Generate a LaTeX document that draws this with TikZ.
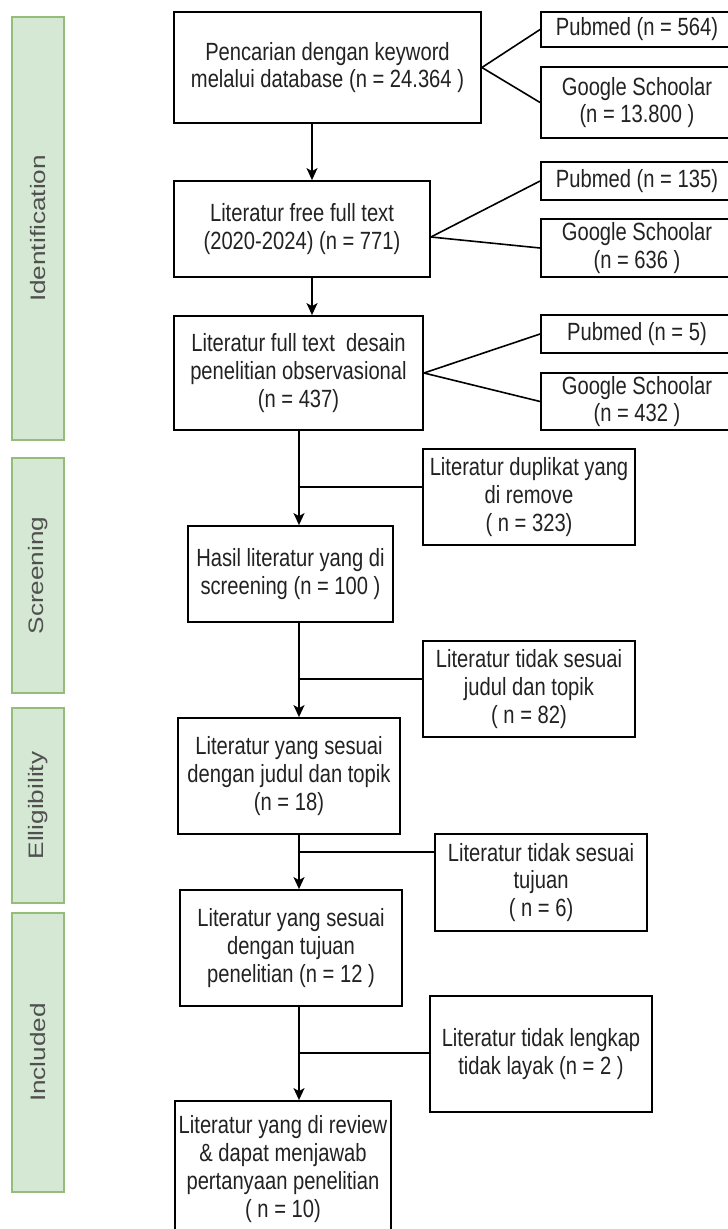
\documentclass[tikz,border=0pt]{standalone}
\usepackage{fontspec}
\setmainfont{Liberation Sans}[FakeStretch=0.81]
\newfontfamily\sidefont{Liberation Sans}[FakeStretch=1.25]
\usetikzlibrary{arrows.meta}
\definecolor{gfill}{HTML}{D5E8D4}
\definecolor{gdraw}{HTML}{93BD78}
\definecolor{txt}{HTML}{222222}
\definecolor{sidetxt}{HTML}{505050}
\begin{document}
\begin{tikzpicture}[x=1bp,y=-1bp,
  box/.style={draw=black, line width=1.8bp, fill=white, align=center, text=txt,
    font=\fontsize{25}{28}\selectfont, inner sep=0pt},
  sz/.style 2 args={minimum width=#1bp, minimum height=#2bp},
  phase/.style={draw=gdraw, fill=gfill, line width=1.5bp, minimum width=52bp, inner sep=0pt},
  phaselabel/.style={rotate=90, text=sidetxt, font=\sidefont\fontsize{21}{24}\selectfont, inner sep=0pt},
  link/.style={line width=1.6bp, draw=black},
  flow/.style={link, -{Stealth[length=12bp,width=11bp,inset=3bp]}}]
\useasboundingbox (0,0) rectangle (728,1229);
\fill[white] (0,0) rectangle (728,1229);

% phases
\node[phase, minimum height=423bp] (ph1) at (38,228.5) {};
\node[phaselabel] (lb1) at (ph1.center) {Identification};
\node[phase, minimum height=235bp] (ph2) at (38,575.5) {};
\node[phaselabel] (lb2) at (ph2.center) {Screening};
\node[phase, minimum height=195bp] (ph3) at (38,805.5) {};
\node[phaselabel] (lb3) at (ph3.center) {Elligibility};
\node[phase, minimum height=279bp] (ph4) at (38,1052.5) {};
\node[phaselabel] (lb4) at (ph4.center) {Included};

% main boxes
\node[box, sz={307}{111}] (A) at (327.5,67.5) {Pencarian dengan keyword\\melalui database (n = 24.364 )};
\node[box, sz={192}{35}] (P1) at (637,29.5) {Pubmed (n = 564)};
\node[box, sz={192}{71}] (G1) at (637,102.5) {Google Schoolar\\(n = 13.800 )};
\node[box, sz={256}{96}] (B) at (302,229) {Literatur free full text\\(2020-2024) (n = 771)};
\node[box, sz={192}{38}] (P2) at (637,181) {Pubmed (n = 135)};
\node[box, sz={192}{58}] (G2) at (637,248) {Google Schoolar\\(n = 636 )};
\node[box, sz={249}{114}] (C) at (298.5,373) {Literatur full text\ \ desain\\penelitian observasional\\(n = 437)};
\node[box, sz={192}{38}] (P3) at (637,334) {Pubmed (n = 5)};
\node[box, sz={192}{57}] (G3) at (637,401.5) {Google Schoolar\\(n = 432 )};
\node[box, sz={212}{96}] (R1) at (529,497) {Literatur duplikat yang\\di remove\\( n = 323)};
\node[box, sz={205}{96}] (D) at (290.5,574) {Hasil literatur yang di\\screening (n = 100 )};
\node[box, sz={212}{96}] (R2) at (529,689) {Literatur tidak sesuai\\judul dan topik\\( n = 82)};
\node[box, sz={222}{116}] (E) at (289,776) {Literatur yang sesuai\\dengan judul dan topik\\(n = 18)};
\node[box, sz={212}{97}] (R3) at (541,882.5) {Literatur tidak sesuai\\tujuan\\( n = 6)};
\node[box, sz={222}{116}] (F) at (291,948) {Literatur yang sesuai\\dengan tujuan\\penelitian (n = 12 )};
\node[box, sz={222}{116}] (R4) at (541,1054) {Literatur tidak lengkap\\tidak layak (n = 2 )};
\node[box, sz={216}{136}] (G) at (283,1169) {Literatur yang di review\\\& dapat menjawab\\pertanyaan penelitian\\( n = 10)};

% database links
\draw[link] (A.east) -- (P1.west);
\draw[link] (A.east) -- (G1.west);
\draw[link] ([yshift=-8bp]B.east) -- (P2.west);
\draw[link] ([yshift=-8bp]B.east) -- (G2.west);
\draw[link] (C.east) -- (P3.west);
\draw[link] (C.east) -- (G3.west);

% spines
\coordinate (s1) at (312,0);
\coordinate (s2) at (299,0);
\draw[flow] (A.south -| s1) -- (B.north -| s1);
\draw[flow] (B.south -| s1) -- (C.north -| s1);
\draw[flow] (C.south -| s2) -- (D.north -| s2);
\draw[flow] (D.south -| s2) -- (E.north -| s2);
\draw[flow] (E.south -| s2) -- (F.north -| s2);
\draw[flow] (F.south -| s2) -- (G.north -| s2);

% exclusion joins
\coordinate (j1) at (299,487);
\coordinate (j2) at (299,679);
\coordinate (j3) at (299,852);
\coordinate (j4) at (299,1053);
\draw[link] (R1.west |- j1) -- (j1);
\draw[link] (R2.west |- j2) -- (j2);
\draw[link] (R3.west |- j3) -- (j3);
\draw[link] (R4.west |- j4) -- (j4);
\end{tikzpicture}
\end{document}
